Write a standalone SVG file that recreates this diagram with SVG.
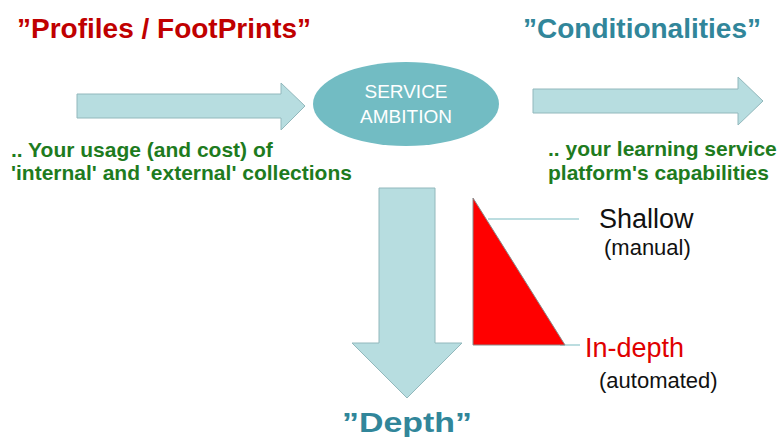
<svg xmlns="http://www.w3.org/2000/svg" width="783" height="437" viewBox="0 0 783 437">
<style>
.arrow{fill:#b7dde0;stroke:#92b8bc;stroke-width:1}
.t{font-family:"Liberation Sans",Arial,sans-serif}
.title{font-weight:bold;font-size:28px}
.green{fill:#1e7b1e;font-weight:bold;font-size:21px}
.lbl{fill:#111;font-size:27px}
.sub{fill:#111;font-size:22px}
</style>
<rect width="783" height="437" fill="#fff"/>
<g id="titles">
<text class="t title" x="17" y="38" fill="#c00000">”Profiles / FootPrints”</text>
<text class="t title" x="523" y="38" fill="#31869a">”Conditionalities”</text>
<text class="t title" x="342" y="432" fill="#31869a" font-size="33" textLength="130" lengthAdjust="spacingAndGlyphs">”Depth”</text>
</g>
<g id="connectors">
<polygon class="arrow" points="77,94 281,94 281,83 305,106 281,130 281,118 77,118"/>
<polygon class="arrow" points="533,89 738,89 738,77 763,101 738,125 738,113 533,113"/>
<polygon class="arrow" points="379,188 435,188 435,343 462,343 407,398 352,343 379,343"/>
</g>
<g id="service-ambition">
<ellipse cx="406" cy="104" rx="93" ry="42" fill="#72bcc3"/>
<text class="t" x="406" y="98" fill="#fff" font-size="19" text-anchor="middle">SERVICE</text>
<text class="t" x="406" y="123" fill="#fff" font-size="19" text-anchor="middle">AMBITION</text>
</g>
<g id="left-note">
<text class="t green" x="11" y="157">.. Your usage (and cost) of</text>
<text class="t green" x="11" y="180">'internal' and 'external' collections</text>
</g>
<g id="right-note">
<text class="t green" x="548" y="156">.. your learning service</text>
<text class="t green" x="548" y="180">platform's capabilities</text>
</g>
<g id="depth-scale">
<line x1="488" y1="219" x2="579" y2="219" stroke="#a6d2d6" stroke-width="1.5"/>
<line x1="560" y1="345" x2="580" y2="345" stroke="#a6d2d6" stroke-width="1.5"/>
<polygon points="473,198 473,345 565,345" fill="#ff0000" stroke="#8a8a8a" stroke-width="1"/>
<text class="t lbl" x="599" y="228">Shallow</text>
<text class="t sub" x="604" y="255">(manual)</text>
<text class="t lbl" x="585" y="357" style="fill:#e00000">In-depth</text>
<text class="t sub" x="599" y="388">(automated)</text>
</g>
</svg>
